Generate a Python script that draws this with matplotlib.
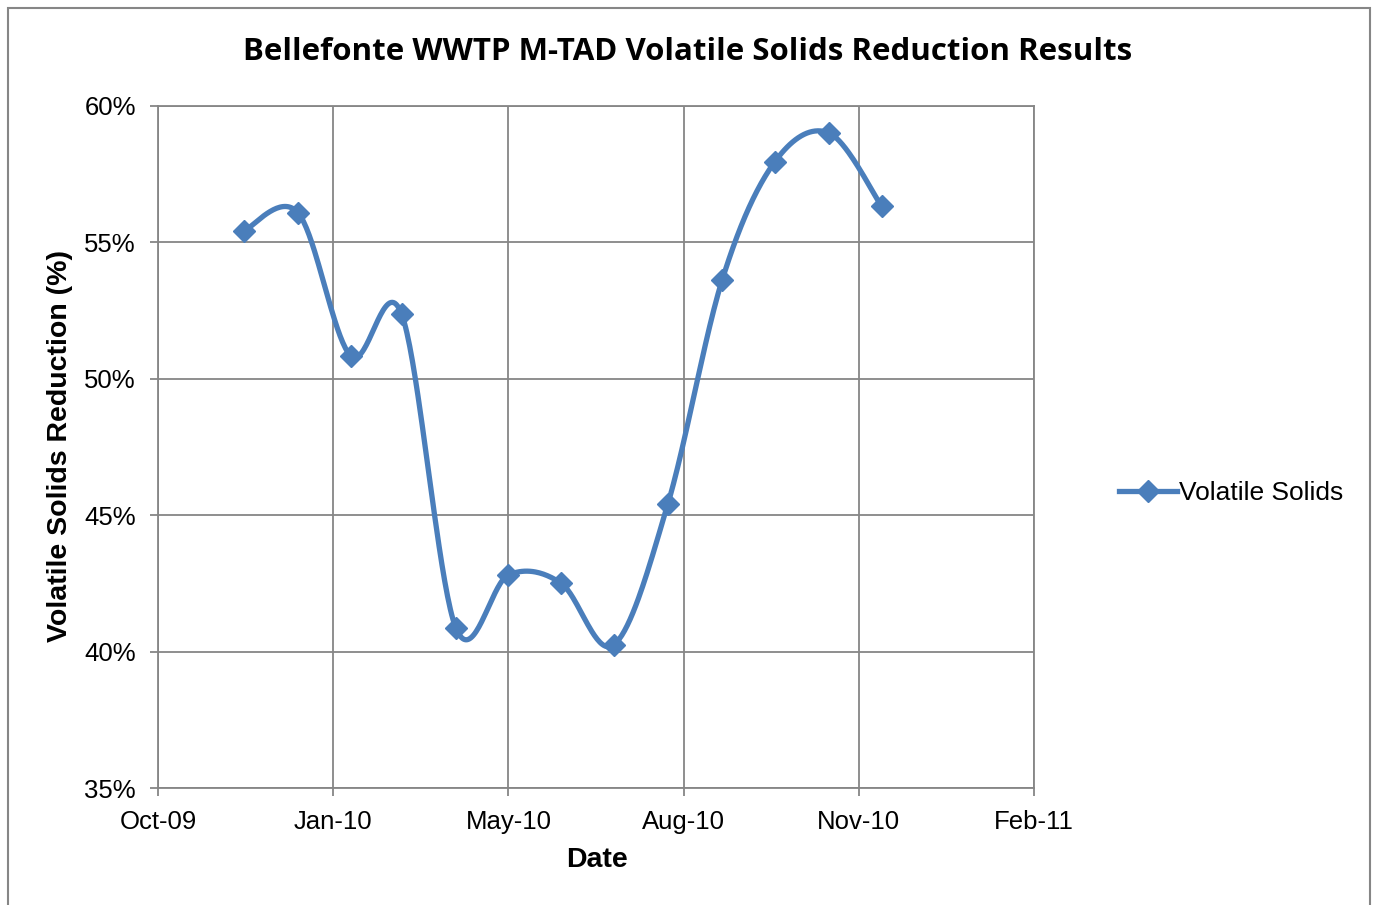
import numpy as np
import matplotlib
matplotlib.use('Agg')
import matplotlib.pyplot as plt
import matplotlib.dates as mdates
from matplotlib.patches import Rectangle
from matplotlib.lines import Line2D
from datetime import date, timedelta

# data
dates = ['2009-12-04', '2010-01-04', '2010-02-03', '2010-03-04', '2010-04-04',
         '2010-05-04', '2010-06-03', '2010-07-03', '2010-08-03', '2010-09-03',
         '2010-10-03', '2010-11-03', '2010-12-03']
vs_reduction = [55.42, 56.08, 50.84, 52.38, 40.87, 42.81, 42.51, 40.24,
                45.41, 53.62, 57.95, 59.01, 56.33]

x_start = date(2009, 10, 16)
x_step_days = 100
n_ticks = 6

blue = '#4A7EBB'
grid_col = '#868686'
W, H = 1374, 905

fig = plt.figure(figsize=(W / 100, H / 100), dpi=100)
fig.patches.append(Rectangle((8 / W, -0.05), (1370 - 8) / W, 0.05 + (H - 8) / H,
                             transform=fig.transFigure, fill=False,
                             edgecolor=grid_col, linewidth=1.5))

ax = fig.add_axes([158 / W, 1 - 788 / H, (1034 - 158) / W, (788 - 106) / H])

x0 = mdates.date2num(np.datetime64(x_start))
ticks = [x0 + k * x_step_days for k in range(n_ticks)]
ax.set_xlim(ticks[0], ticks[-1])
ax.set_ylim(35, 60)
ax.set_xticks(ticks)
ax.set_xticklabels([(x_start + timedelta(days=k * x_step_days)).strftime('%b-%y') for k in range(n_ticks)])
ax.set_yticks(np.arange(35, 61, 5))
ax.set_yticklabels([f'{v}%' for v in range(35, 61, 5)])

ax.grid(True, color=grid_col, linewidth=1.3)
ax.set_axisbelow(True)
for s in ax.spines.values():
    s.set_color(grid_col)
    s.set_linewidth(1.3)
ax.tick_params(direction='out', length=6, width=1.3, color=grid_col,
               labelsize=18.5, pad=10)
for lab in ax.get_xticklabels() + ax.get_yticklabels():
    lab.set_fontfamily('Liberation Sans')

xs = mdates.date2num(np.array(dates, dtype='datetime64[D]'))
ys = np.array(vs_reduction)

# Excel-style smoothed line: cubic Bezier (Catmull-Rom) built in display space
pts = ax.transData.transform(np.column_stack([xs, ys]))
curve = []
n = len(pts)
for i in range(n - 1):
    p0 = pts[max(i - 1, 0)]
    p1 = pts[i]
    p2 = pts[i + 1]
    p3 = pts[min(i + 2, n - 1)]
    c1 = p1 + (p2 - p0) / 6
    c2 = p2 - (p3 - p1) / 6
    t = np.linspace(0, 1, 40)[:, None]
    seg = (1 - t) ** 3 * p1 + 3 * (1 - t) ** 2 * t * c1 + 3 * (1 - t) * t ** 2 * c2 + t ** 3 * p2
    curve.append(seg if i == 0 else seg[1:])
curve = ax.transData.inverted().transform(np.vstack(curve))

ax.plot(curve[:, 0], curve[:, 1], color=blue, linewidth=3.8, solid_capstyle='round', zorder=3)
ax.plot(xs, ys, linestyle='none', marker='D', markersize=11, color=blue, zorder=4)

fig.text(597 / W, 1 - 860 / H, 'Date', ha='center', va='center',
         fontsize=20.5, fontweight='bold', family='Liberation Sans')
fig.text(60 / W, 1 - 446 / H, 'Volatile Solids Reduction (%)', ha='center', va='center',
         rotation=90, fontsize=20.5, fontweight='bold', family='Liberation Sans')

fig.text(688 / W, 1 - 52 / H, 'Bellefonte WWTP M-TAD Volatile Solids Reduction Results',
         ha='center', va='center', fontsize=22.5, fontweight='bold', family='Open Sans')

handle = Line2D([], [], color=blue, linewidth=3.8, marker='D', markersize=11)
fig.legend([handle], ['Volatile Solids'], loc='center left',
           bbox_to_anchor=(1095 / W, 1 - 493 / H), frameon=False,
           prop={'family': 'Liberation Sans', 'size': 19}, handlelength=2.2,
           handletextpad=0.1)

fig.savefig('out.png', dpi=100)
